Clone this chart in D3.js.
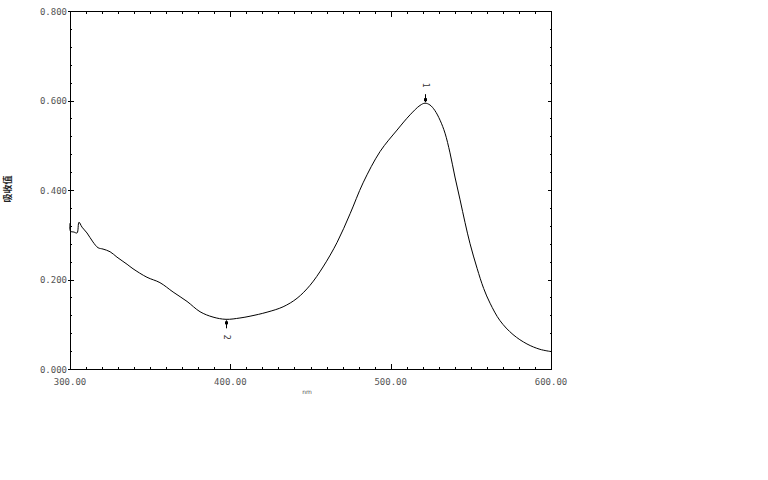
<!DOCTYPE html>
<html><head><meta charset="utf-8">
<script src="https://cdn.jsdelivr.net/npm/d3@7"></script>
<style>
html,body{margin:0;padding:0;background:#fff;}
svg{display:block;}
</style></head>
<body>
<svg id="chart" width="768" height="480"></svg>
<script>
// Data (wavelength nm, absorbance)
const wavelengths = [300.0,300.3,302.5,304.4,305.6,307.5,310.6,314.3,317.5,320.6,325.0,329.3,335.6,339.3,348.0,356.1,364.3,373.0,381.1,389.2,397.3,406.0,412.3,422.9,432.9,441.6,449.7,457.8,466.6,474.7,482.8,493.4,504.0,512.1,518.3,521.4,524.5,527.5,530.8,533.9,537.0,540.1,543.3,546.4,549.5,553.9,558.0,562.0,568.2,576.3,585.0,593.1,600.0];
const absorbance  = [0.326,0.308,0.306,0.304,0.328,0.317,0.304,0.284,0.271,0.268,0.262,0.250,0.234,0.224,0.205,0.193,0.172,0.151,0.128,0.116,0.111,0.114,0.118,0.127,0.139,0.158,0.187,0.228,0.283,0.347,0.416,0.486,0.534,0.568,0.589,0.594,0.590,0.578,0.556,0.527,0.483,0.429,0.378,0.327,0.280,0.225,0.180,0.147,0.108,0.077,0.056,0.044,0.039];
const xTicks = [300,400,500,600];
const xTickLabels = ["300.00","400.00","500.00","600.00"];
const yTicks = [0,0.2,0.4,0.6,0.8];
const yTickLabels = ["0.000","0.200","0.400","0.600","0.800"];
const peakLabels = ["1","2"];
const peakWl = [521.4,397.3];
const peakAbs = [0.594,0.111];
const peakType = ["max","min"];
const yTitle = "吸收值";
const xTitle = "nm";

const svg = d3.select("#chart");
const L = 70, R = 551, T = 11, B = 369;
const x = d3.scaleLinear().domain([300,600]).range([L,R]);
const y = d3.scaleLinear().domain([0,0.8]).range([B,T]);

const g = svg.append("g").attr("shape-rendering","crispEdges");
// frame
g.append("rect").attr("x",L+0.5).attr("y",T+0.5).attr("width",R-L).attr("height",B-T)
  .attr("fill","none").attr("stroke","#000").attr("stroke-width",1);

const xMinor = d3.range(300,601,10);
const yMinor = d3.range(0,0.8001,0.04);
function tick(x1,y1,x2,y2,c){g.append("line").attr("x1",x1).attr("y1",y1).attr("x2",x2).attr("y2",y2).attr("stroke",c||"#000");}
xMinor.forEach(v=>{const px=Math.round(x(v))+0.5; const maj=Math.abs(v%100)<1e-6;
  tick(px,B,px,B-(maj?5:2)); tick(px,T+1,px,T+1+(maj?5:2));});
yMinor.forEach(v=>{const py=Math.round(y(v))+0.5; const maj=Math.abs((v*5)-Math.round(v*5))<1e-6;
  tick(L-(maj?2:0),py,L+(maj?4:2),py); tick(R+1,py,R+1-(maj?4:2),py);});

// tick labels
const lab = svg.append("g").attr("font-family","DejaVu Sans Mono, monospace").attr("font-size",9).attr("fill","#555");
xTicks.forEach((v,i)=>lab.append("text").attr("x",x(v)).attr("y",B+16).attr("text-anchor","middle").text(xTickLabels[i]));
yTicks.forEach((v,i)=>lab.append("text").attr("x",L-3).attr("y",y(v)+3.5).attr("text-anchor","end").text(yTickLabels[i]));

// titles
svg.append("text").attr("transform","translate(11,189) rotate(-90)").attr("text-anchor","middle")
  .attr("font-family","Noto Sans CJK SC").attr("font-size",9).attr("font-weight","bold").attr("fill","#222").text(yTitle);
svg.append("text").attr("x",307).attr("y",394).attr("text-anchor","middle")
  .attr("font-family","DejaVu Sans").attr("font-size",6).attr("fill","#555").text(xTitle);

// curve
const data = wavelengths.map((w,i)=>[w,absorbance[i]]);
svg.append("path").datum(data)
  .attr("d",d3.line().x(d=>x(d[0])).y(d=>y(d[1])).curve(d3.curveCatmullRom.alpha(0.5)))
  .attr("fill","none").attr("stroke","#000").attr("stroke-width",1);

// peak markers
peakWl.forEach((w,i)=>{
  const px = Math.round(x(w))+0.5, py = y(peakAbs[i]);
  const s = peakType[i]==="max" ? -1 : 1;
  svg.append("line").attr("x1",px).attr("x2",px).attr("y1",py+s*1).attr("y2",py+s*9).attr("stroke","#000");
  svg.append("rect").attr("x",px-1.5).attr("y",py+s*3.5-1.5).attr("width",3).attr("height",3).attr("fill","#000");
  svg.append("text").attr("transform",`translate(${px},${py+s*18}) rotate(90)`)
    .attr("text-anchor","middle").attr("dy","0.35em")
    .attr("font-family","DejaVu Sans").attr("font-size",8).attr("fill","#333").text(peakLabels[i]);
});
</script>
</body></html>
